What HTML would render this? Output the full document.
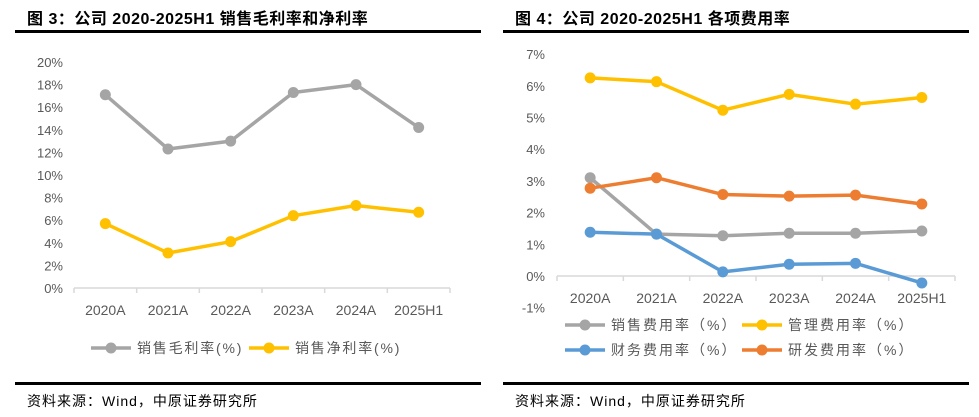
<!DOCTYPE html>
<html><head><meta charset="utf-8"><style>
body{margin:0;background:#fff;width:979px;height:417px;overflow:hidden;font-family:"Liberation Sans","Noto Sans CJK SC",sans-serif}
svg{position:absolute;left:0;top:0}
</style></head><body>
<svg id="c" width="979" height="417" xmlns="http://www.w3.org/2000/svg">
<g>
<text x="27" y="24" font-size="16" font-weight="bold" fill="#000" letter-spacing="0.5">图 3：公司 2020-2025H1 销售毛利率和净利率</text>
<rect x="15" y="30" width="466" height="3" fill="#000"/>
<rect x="15" y="382" width="466" height="3" fill="#000"/>
<text x="27" y="406" font-size="14" fill="#000" letter-spacing="1">资料来源：Wind，中原证券研究所</text>
</g>
<g>
<text x="515" y="24" font-size="16" font-weight="bold" fill="#000" letter-spacing="0.5">图 4：公司 2020-2025H1 各项费用率</text>
<rect x="503" y="30" width="466" height="3" fill="#000"/>
<rect x="503" y="382" width="466" height="3" fill="#000"/>
<text x="515" y="406" font-size="14" fill="#000" letter-spacing="1">资料来源：Wind，中原证券研究所</text>
</g>
<g id="L"></g>
<g id="R"></g>
</svg>
<script>
const categories=["2020A","2021A","2022A","2023A","2024A","2025H1"];
const grossMargin=[17.1,12.3,13.0,17.3,18.0,14.2];
const netMargin=[5.7,3.1,4.1,6.4,7.3,6.7];
const leftTicks=[0,2,4,6,8,10,12,14,16,18,20];
const salesExp=[3.1,1.32,1.27,1.35,1.35,1.42];
const adminExp=[6.25,6.13,5.23,5.73,5.42,5.63];
const finExp=[1.38,1.32,0.13,0.37,0.4,-0.22];
const rdExp=[2.77,3.1,2.57,2.52,2.55,2.27];
const rightTicks=[-1,0,1,2,3,4,5,6,7];
const NS="http://www.w3.org/2000/svg";
function mk(p,t,a,txt){const e=document.createElementNS(NS,t);for(const k in a)e.setAttribute(k,a[k]);if(txt!=null)e.textContent=txt;p.appendChild(e);return e;}
function chart(g,cfg){
  const x0=cfg.x0,x1=cfg.x1,bw=(x1-x0)/categories.length;
  const xs=i=>x0+bw*(i+0.5);
  const ys=v=>cfg.yZero-(v-0)*cfg.ppu;
  cfg.ticks.forEach(t=>{
    const e=mk(g,"text",{x:cfg.tickX,y:ys(t)+5,"font-size":13,fill:"#595959","text-anchor":"end"},t+"%");
    
    
  });
  const ax=mk(g,"line",{x1:x0,x2:x1,y1:cfg.yZero,y2:cfg.yZero,stroke:"#D9D9D9","stroke-width":1.5});
  
  
  for(let i=0;i<=categories.length;i++){
    const tk=mk(g,"line",{x1:x0+bw*i,x2:x0+bw*i,y1:cfg.yZero,y2:cfg.yZero+5,stroke:"#D9D9D9","stroke-width":1.5});
    
    
  }
  categories.forEach((c,i)=>{
    const e=mk(g,"text",{x:xs(i),y:cfg.labelY,"font-size":14,fill:"#595959","text-anchor":"middle"},c);
    
    
  });
  cfg.series.forEach(s=>{
    const sg=mk(g,"g",{});
    
    
    const pl=mk(sg,"polyline",{points:s.data.map((v,i)=>xs(i)+","+ys(v)).join(" "),fill:"none",stroke:s.color,"stroke-width":3.5,"stroke-linejoin":"round"});
    
    
    s.data.forEach((v,i)=>{
      const c=mk(sg,"circle",{cx:xs(i),cy:ys(v),r:5.5,fill:s.color});
      
      
    });
  });
  cfg.legend.forEach(l=>{
    const lg=mk(g,"g",{});
    
    
    mk(lg,"line",{x1:l.x,x2:l.x+40,y1:l.y,y2:l.y,stroke:l.color,"stroke-width":3.5});
    mk(lg,"circle",{cx:l.x+20,cy:l.y,r:5.5,fill:l.color});
    mk(lg,"text",{x:l.x+46,y:l.y+5,"font-size":14,fill:"#595959","letter-spacing":cfg.ls},l.label);
  });
}
chart(document.getElementById("L"),{x0:74,x1:450,yZero:288,ppu:11.3,ticks:leftTicks,tickX:63,labelY:315,ls:1.8,
 series:[{name:"gross-margin",data:grossMargin,color:"#A5A5A5"},{name:"net-margin",data:netMargin,color:"#FFC000"}],
 legend:[{x:91,y:348,color:"#A5A5A5",label:"销售毛利率(%)"},{x:249,y:348,color:"#FFC000",label:"销售净利率(%)"}]});
chart(document.getElementById("R"),{x0:557,x1:955,yZero:276,ppu:31.7,ticks:rightTicks,tickX:545,labelY:303,ls:2,
 series:[{name:"sales-expense",data:salesExp,color:"#A5A5A5"},{name:"admin-expense",data:adminExp,color:"#FFC000"},{name:"rd-expense",data:rdExp,color:"#ED7D31"},{name:"finance-expense",data:finExp,color:"#5B9BD5"}],
 legend:[{x:565,y:325,color:"#A5A5A5",label:"销售费用率（%）"},{x:742,y:325,color:"#FFC000",label:"管理费用率（%）"},{x:565,y:350,color:"#5B9BD5",label:"财务费用率（%）"},{x:742,y:350,color:"#ED7D31",label:"研发费用率（%）"}]});
</script>
</body></html>
